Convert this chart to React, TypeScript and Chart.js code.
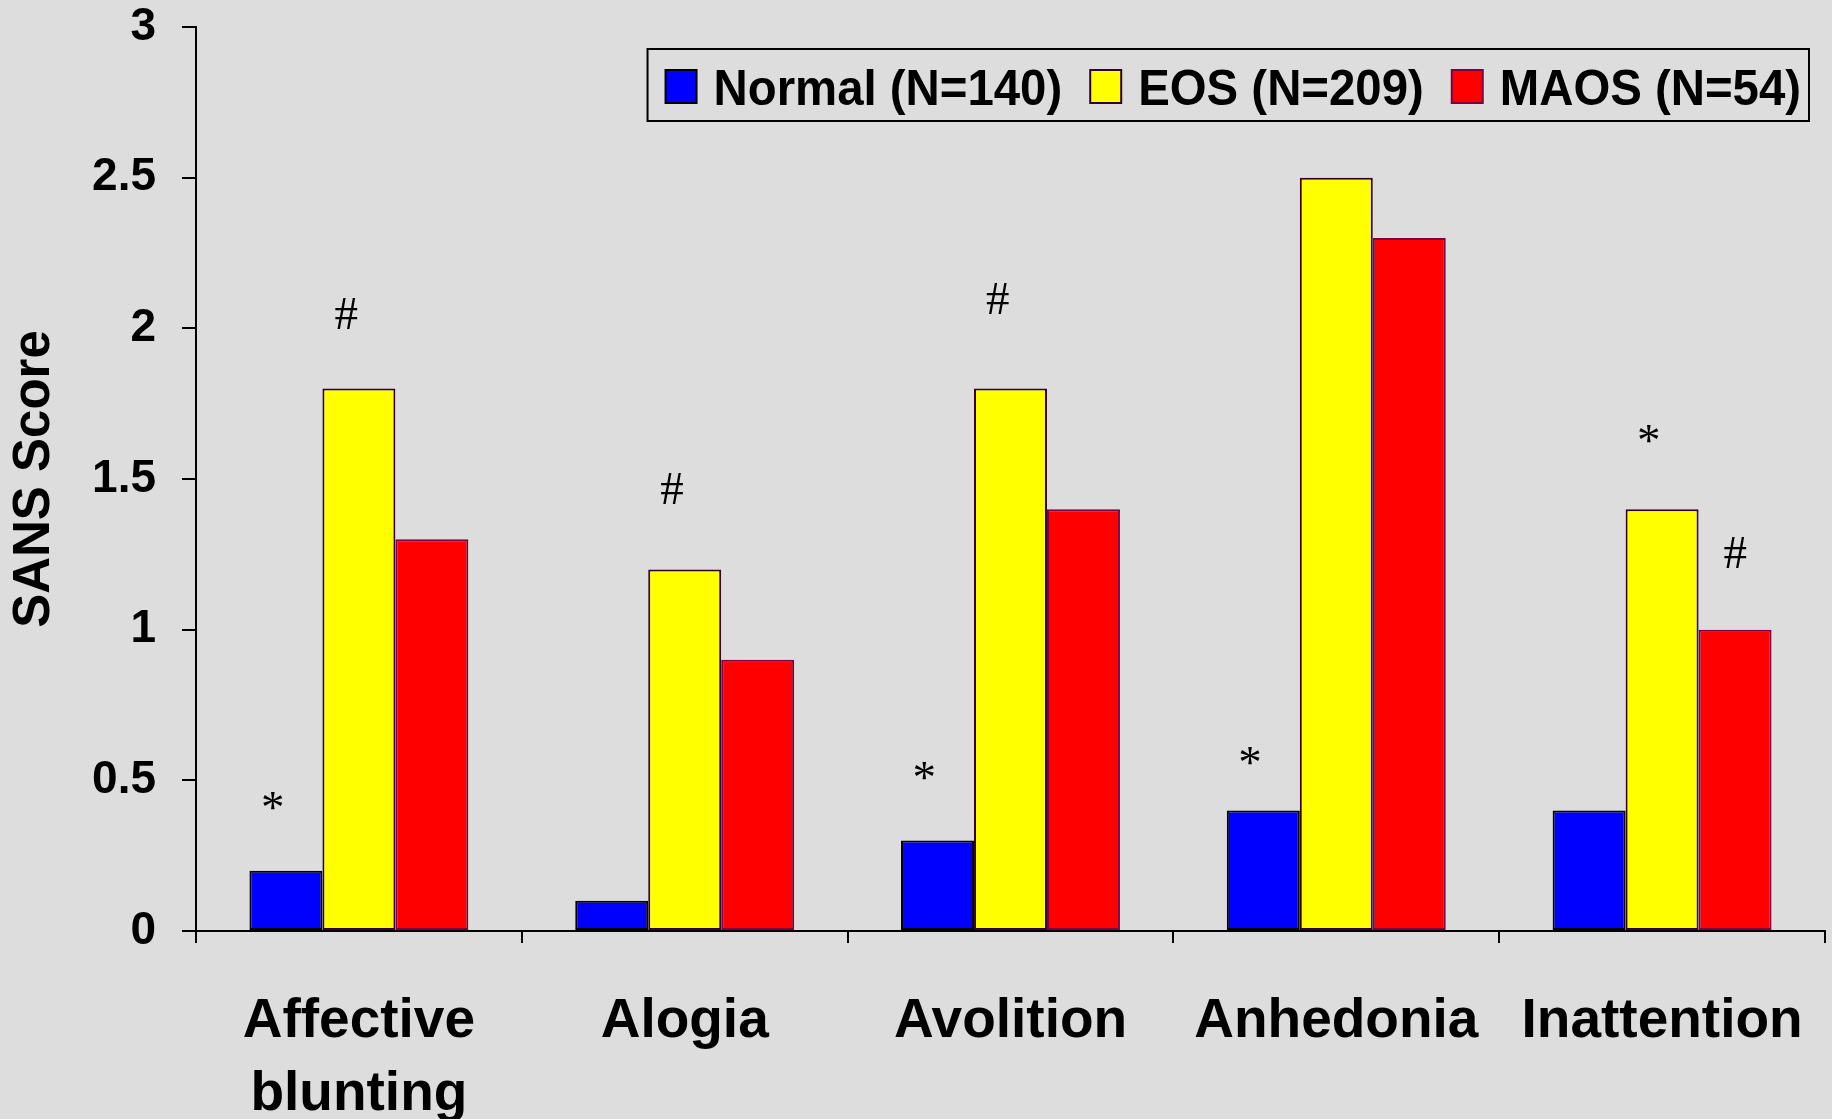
import React, { useEffect, useRef } from 'react';
import { Chart, registerables } from 'chart.js';

Chart.register(...registerables);

// ---- data ----
const categories: (string | string[])[] = [['Affective', 'blunting'], 'Alogia', 'Avolition', 'Anhedonia', 'Inattention'];
const seriesLabels = ['Normal (N=140)', 'EOS (N=209)', 'MAOS (N=54)'];
const normalValues = [0.2, 0.1, 0.3, 0.4, 0.4];
const eosValues = [1.8, 1.2, 1.8, 2.5, 1.4];
const maosValues = [1.3, 0.9, 1.4, 2.3, 1.0];
const yTickValues = [0, 0.5, 1, 1.5, 2, 2.5, 3];
const yTickLabels = ['0', '0.5', '1', '1.5', '2', '2.5', '3'];

// significance marks: category index, series index, symbol, level (score units)
const markCategory = [0, 0, 1, 2, 2, 3, 4, 4];
const markSeries = [0, 1, 1, 0, 1, 0, 1, 2];
const markSymbol = ['*', '#', '#', '*', '#', '*', '*', '#'];
const markLevel = [0.43, 2.05, 1.47, 0.53, 2.1, 0.58, 1.65, 1.255];

// ---- styles ----
const seriesFill = ['#0000ff', '#ffff00', '#ff0000'];
const seriesStroke = ['#000000', '#330033', '#800040'];
const markShiftBySeries = [-13, -13, 0];
const SANS = "'Liberation Sans', Arial, Helvetica, sans-serif";
const SERIF = "'Liberation Serif', 'Times New Roman', serif";

const legendPlugin = {
  id: 'boxLegend',
  afterDraw(chart: any) {
    const ctx = chart.ctx as CanvasRenderingContext2D;
    const area = chart.chartArea;
    ctx.save();
    ctx.font = `bold 50px ${SANS}`;
    const squeeze = 0.947;
    const sw = 31, sh = 33, gapText = 17, gapItem = 28, padL = 18, padR = 8, boxH = 72;
    const items = chart.data.datasets.map((ds: any) => ({
      label: ds.label as string,
      w: ctx.measureText(ds.label).width * squeeze,
      fill: ds.backgroundColor,
      stroke: ds.borderColor,
    }));
    let total = padL + padR;
    items.forEach((it: any, i: number) => {
      total += sw + gapText + it.w + (i < items.length - 1 ? gapItem : 0);
    });
    const right = area.right - 16;
    const left = right - total;
    const top = area.top + 22;
    ctx.lineWidth = 2;
    ctx.strokeStyle = '#000';
    ctx.strokeRect(left, top, total, boxH);
    let x = left + padL;
    items.forEach((it: any) => {
      ctx.fillStyle = it.fill;
      ctx.fillRect(x, top + 21, sw, sh);
      ctx.strokeStyle = it.stroke;
      ctx.lineWidth = 2;
      ctx.strokeRect(x, top + 21, sw, sh);
      x += sw + gapText;
      ctx.fillStyle = '#000';
      ctx.textAlign = 'left';
      ctx.textBaseline = 'alphabetic';
      ctx.fillText(it.label, x, top + 56, it.w);
      x += it.w + gapItem;
    });
    ctx.restore();
  },
};

const marksPlugin = {
  id: 'sigMarks',
  afterDatasetsDraw(chart: any) {
    const ctx = chart.ctx as CanvasRenderingContext2D;
    const yScale = chart.scales.y;
    ctx.save();
    ctx.font = `47px ${SERIF}`;
    ctx.fillStyle = '#000';
    ctx.textAlign = 'left';
    ctx.textBaseline = 'alphabetic';
    markSymbol.forEach((s, i) => {
      const bar = chart.getDatasetMeta(markSeries[i]).data[markCategory[i]];
      const cx = bar.x + markShiftBySeries[markSeries[i]];
      const cy = yScale.getPixelForValue(markLevel[i]);
      const m = ctx.measureText(s);
      const x = cx - (m.actualBoundingBoxRight - m.actualBoundingBoxLeft) / 2;
      const y = cy + (m.actualBoundingBoxAscent - m.actualBoundingBoxDescent) / 2;
      ctx.fillText(s, x, y);
    });
    ctx.restore();
  },
};

export default function App() {
  const ref = useRef<HTMLCanvasElement>(null);

  useEffect(() => {
    const seriesValues = [normalValues, eosValues, maosValues];
    const chart = new Chart(ref.current!, {
      type: 'bar',
      data: {
        labels: categories,
        datasets: seriesLabels.map((label, i) => ({
          label,
          data: seriesValues[i],
          backgroundColor: seriesFill[i],
          borderColor: seriesStroke[i],
          borderWidth: 2,
          borderSkipped: false,
          categoryPercentage: 0.672,
          barPercentage: 1,
        })),
      },
      options: {
        animation: false,
        responsive: true,
        maintainAspectRatio: false,
        layout: { padding: { top: 27, right: 7, left: 0, bottom: 0 } },
        plugins: {
          legend: { display: false },
          tooltip: { enabled: false },
        },
        scales: {
          x: {
            grid: {
              display: true,
              drawOnChartArea: false,
              drawTicks: true,
              tickLength: 12,
              color: '#000',
              lineWidth: 2,
              offset: true,
            },
            border: { display: true, color: '#000', width: 2 },
            ticks: {
              color: '#000',
              font: { family: SANS, size: 55, weight: 'bold', lineHeight: 1.33 },
              padding: 42,
              maxRotation: 0,
              autoSkip: false,
            },
            afterFit: (scale: any) => {
              scale.height = 188;
              scale.paddingLeft = 0;
              scale.paddingRight = 0;
            },
          },
          y: {
            min: 0,
            max: 3,
            afterBuildTicks: (scale: any) => {
              scale.ticks = yTickValues.map((v) => ({ value: v }));
            },
            grid: {
              display: true,
              drawOnChartArea: false,
              drawTicks: true,
              tickLength: 14,
              color: '#000',
              lineWidth: 2,
            },
            border: { display: true, color: '#000', width: 2 },
            ticks: {
              color: '#000',
              font: { family: SANS, size: 46, weight: 'bold' },
              padding: 26,
              callback: (v: any) => {
                const idx = yTickValues.indexOf(Number(v));
                return idx >= 0 ? yTickLabels[idx] : String(v);
              },
            },
            title: {
              display: true,
              text: 'SANS Score',
              color: '#000',
              font: { family: SANS, size: 51, weight: 'bold' },
              padding: { top: 4, bottom: 0 },
            },
            afterFit: (scale: any) => {
              scale.width = 196;
              scale.paddingTop = 0;
              scale.paddingBottom = 0;
            },
          },
        },
      },
      plugins: [marksPlugin, legendPlugin],
    } as any);
    return () => chart.destroy();
  }, []);

  return (
    <div
      style={{
        position: 'fixed',
        left: 0,
        top: 0,
        width: 1832,
        height: 1119,
        background: '#dddddd',
        overflow: 'hidden',
      }}
    >
      <canvas ref={ref} />
    </div>
  );
}
